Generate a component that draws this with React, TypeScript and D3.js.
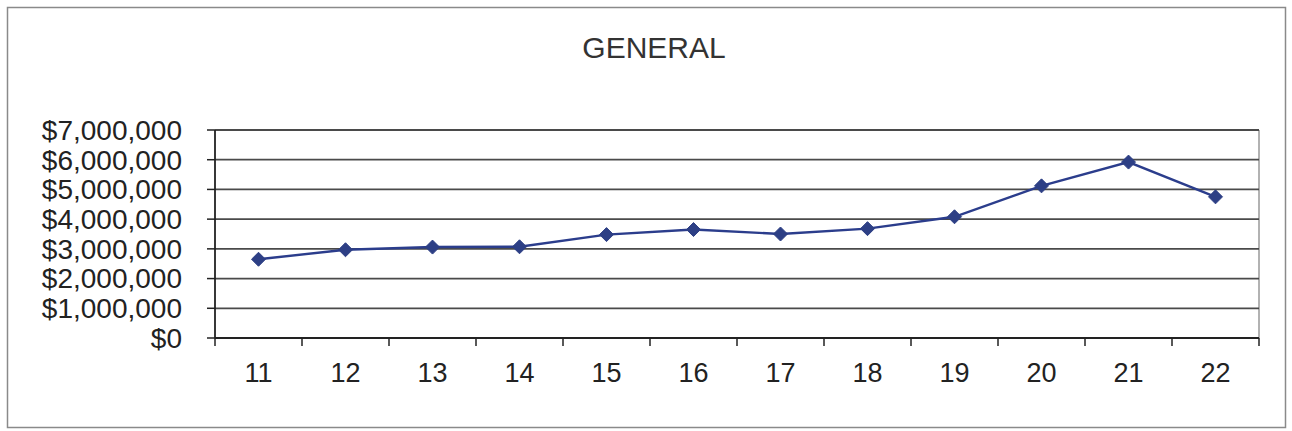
import React from "react";
import * as d3 from "d3";

const categories = ["11", "12", "13", "14", "15", "16", "17", "18", "19", "20", "21", "22"];
const values = [2650000, 2970000, 3060000, 3070000, 3480000, 3650000, 3500000, 3680000, 4080000, 5120000, 5920000, 4750000];
const yTicks = [0, 1000000, 2000000, 3000000, 4000000, 5000000, 6000000, 7000000];
const title = "GENERAL";

const W = 1292;
const H = 431;
const left = 215;
const right = 1259;
const top = 130;
const bottom = 338;

export default function App() {
  const x = d3.scaleBand().domain(categories).range([left, right]).padding(0);
  const y = d3.scaleLinear().domain([0, 7000000]).range([bottom, top]);
  const fmt = (v: number) => "$" + d3.format(",")(v);
  const line = d3
    .line<number>()
    .x((_, i) => (x(categories[i]) as number) + x.bandwidth() / 2)
    .y((d) => y(d));
  const font = "'Liberation Sans', Arial, sans-serif";
  const bounds = categories.map((c) => x(c) as number).concat([right]);

  return (
    <svg width={W} height={H} style={{ position: "absolute", left: 0, top: 0 }}>
      <rect x={0} y={0} width={W} height={H} fill="#fff" />
      <rect x={7.5} y={7.5} width={1278} height={420} fill="none" stroke="#8a8a8a" strokeWidth={1.5} />
      <text x={654} y={58} textAnchor="middle" fontFamily={font} fontSize={30} fill="#333">
        {title}
      </text>
      <line x1={right} x2={right} y1={top} y2={bottom} stroke="#999" strokeWidth={1.5} />
      {yTicks.map((t) => (
        <g key={t}>
          <line x1={left} x2={right} y1={y(t)} y2={y(t)} stroke="#4a4a4a" strokeWidth={1.8} />
          <line x1={207} x2={left} y1={y(t)} y2={y(t)} stroke="#222" strokeWidth={1.5} />
          <text x={182} y={y(t)} dy="0.35em" textAnchor="end" fontFamily={font} fontSize={28} fill="#222">
            {fmt(t)}
          </text>
        </g>
      ))}
      <line x1={left} x2={left} y1={top} y2={bottom} stroke="#222" strokeWidth={1.8} />
      <line x1={left} x2={right} y1={bottom} y2={bottom} stroke="#222" strokeWidth={1.8} />
      {bounds.map((b, i) => (
        <line key={i} x1={b} x2={b} y1={bottom} y2={bottom + 8} stroke="#222" strokeWidth={1.5} />
      ))}
      {categories.map((c) => (
        <text
          key={c}
          x={(x(c) as number) + x.bandwidth() / 2}
          y={382}
          textAnchor="middle"
          fontFamily={font}
          fontSize={27}
          fill="#222"
        >
          {c}
        </text>
      ))}
      <path d={line(values) || ""} fill="none" stroke="#2b3d8c" strokeWidth={2.4} />
      {values.map((v, i) => {
        const cx = (x(categories[i]) as number) + x.bandwidth() / 2;
        const cy = y(v);
        const r = 7;
        return (
          <path
            key={i}
            d={`M${cx},${cy - r}L${cx + r},${cy}L${cx},${cy + r}L${cx - r},${cy}Z`}
            fill="#2d3f85"
            stroke="#2d3f85"
            strokeWidth={1}
          />
        );
      })}
    </svg>
  );
}
